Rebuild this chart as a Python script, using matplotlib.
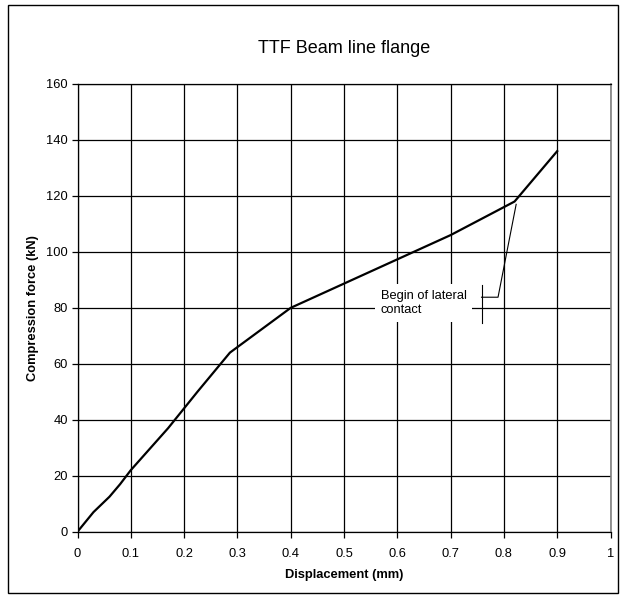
import numpy as np
import matplotlib.pyplot as plt
from matplotlib.patches import Rectangle

plt.rcParams['font.family'] = ['Liberation Sans', 'DejaVu Sans']

# Measured curve (displacement in mm, force in kN)
displacement = [0.0, 0.03, 0.06, 0.08, 0.10, 0.17, 0.225, 0.286, 0.40, 0.70, 0.82, 0.90]
force = [0.0, 7.0, 12.5, 17.0, 22.0, 37.0, 50.0, 64.0, 80.0, 106.0, 118.0, 136.0]

x_ticks = [0, 0.1, 0.2, 0.3, 0.4, 0.5, 0.6, 0.7, 0.8, 0.9, 1]
x_tick_labels = ['0', '0.1', '0.2', '0.3', '0.4', '0.5', '0.6', '0.7', '0.8', '0.9', '1']
y_ticks = [0, 20, 40, 60, 80, 100, 120, 140, 160]

W, H = 620, 596
FS = 9.3
fig = plt.figure(figsize=(W / 100, H / 100), dpi=100)
ax = fig.add_axes([77.5 / W, 1 - 531.7 / H, 533 / W, 447.7 / H])

ax.set_xlim(0, 1)
ax.set_ylim(0, 160)
ax.set_xticks(x_ticks)
ax.set_xticklabels(x_tick_labels)
ax.set_yticks(y_ticks)
ax.grid(True, color='black', linewidth=0.9)
ax.set_axisbelow(True)
ax.tick_params(direction='out', length=4, width=0.9, labelsize=FS)
ax.tick_params(axis='x', pad=7.5)
ax.tick_params(axis='y', pad=3)

for side in ['left', 'bottom', 'top']:
    ax.spines[side].set_linewidth(0.9)
ax.spines['right'].set_color('#808080')
ax.spines['right'].set_linewidth(1.2)

ax.plot(displacement, force, color='black', linewidth=1.6, zorder=3)

# callout, excel style
ax.plot([0.758, 0.758], [74.6, 88.1], color='black', linewidth=0.8, zorder=3)
ax.plot([0.758, 0.789, 0.823], [83.8, 83.8, 117.0], color='black', linewidth=0.8, zorder=3)
ax.text(0.569, 81.7, 'Begin of lateral\ncontact', fontsize=FS, ha='left', va='center',
        linespacing=1.25, zorder=4,
        bbox=dict(facecolor='white', edgecolor='none', pad=4))

ax.set_xlabel('Displacement (mm)', fontsize=FS, fontweight='bold', labelpad=7)
ax.set_ylabel('Compression force (kN)', fontsize=FS, fontweight='bold', labelpad=5)
ax.set_title('TTF Beam line flange', fontsize=13, pad=22)

fig.patches.append(Rectangle((8 / W, 3 / H), 610 / W, 588 / H, transform=fig.transFigure,
                             fill=False, edgecolor='black', linewidth=1.0))

fig.savefig('out.png', dpi=100)
